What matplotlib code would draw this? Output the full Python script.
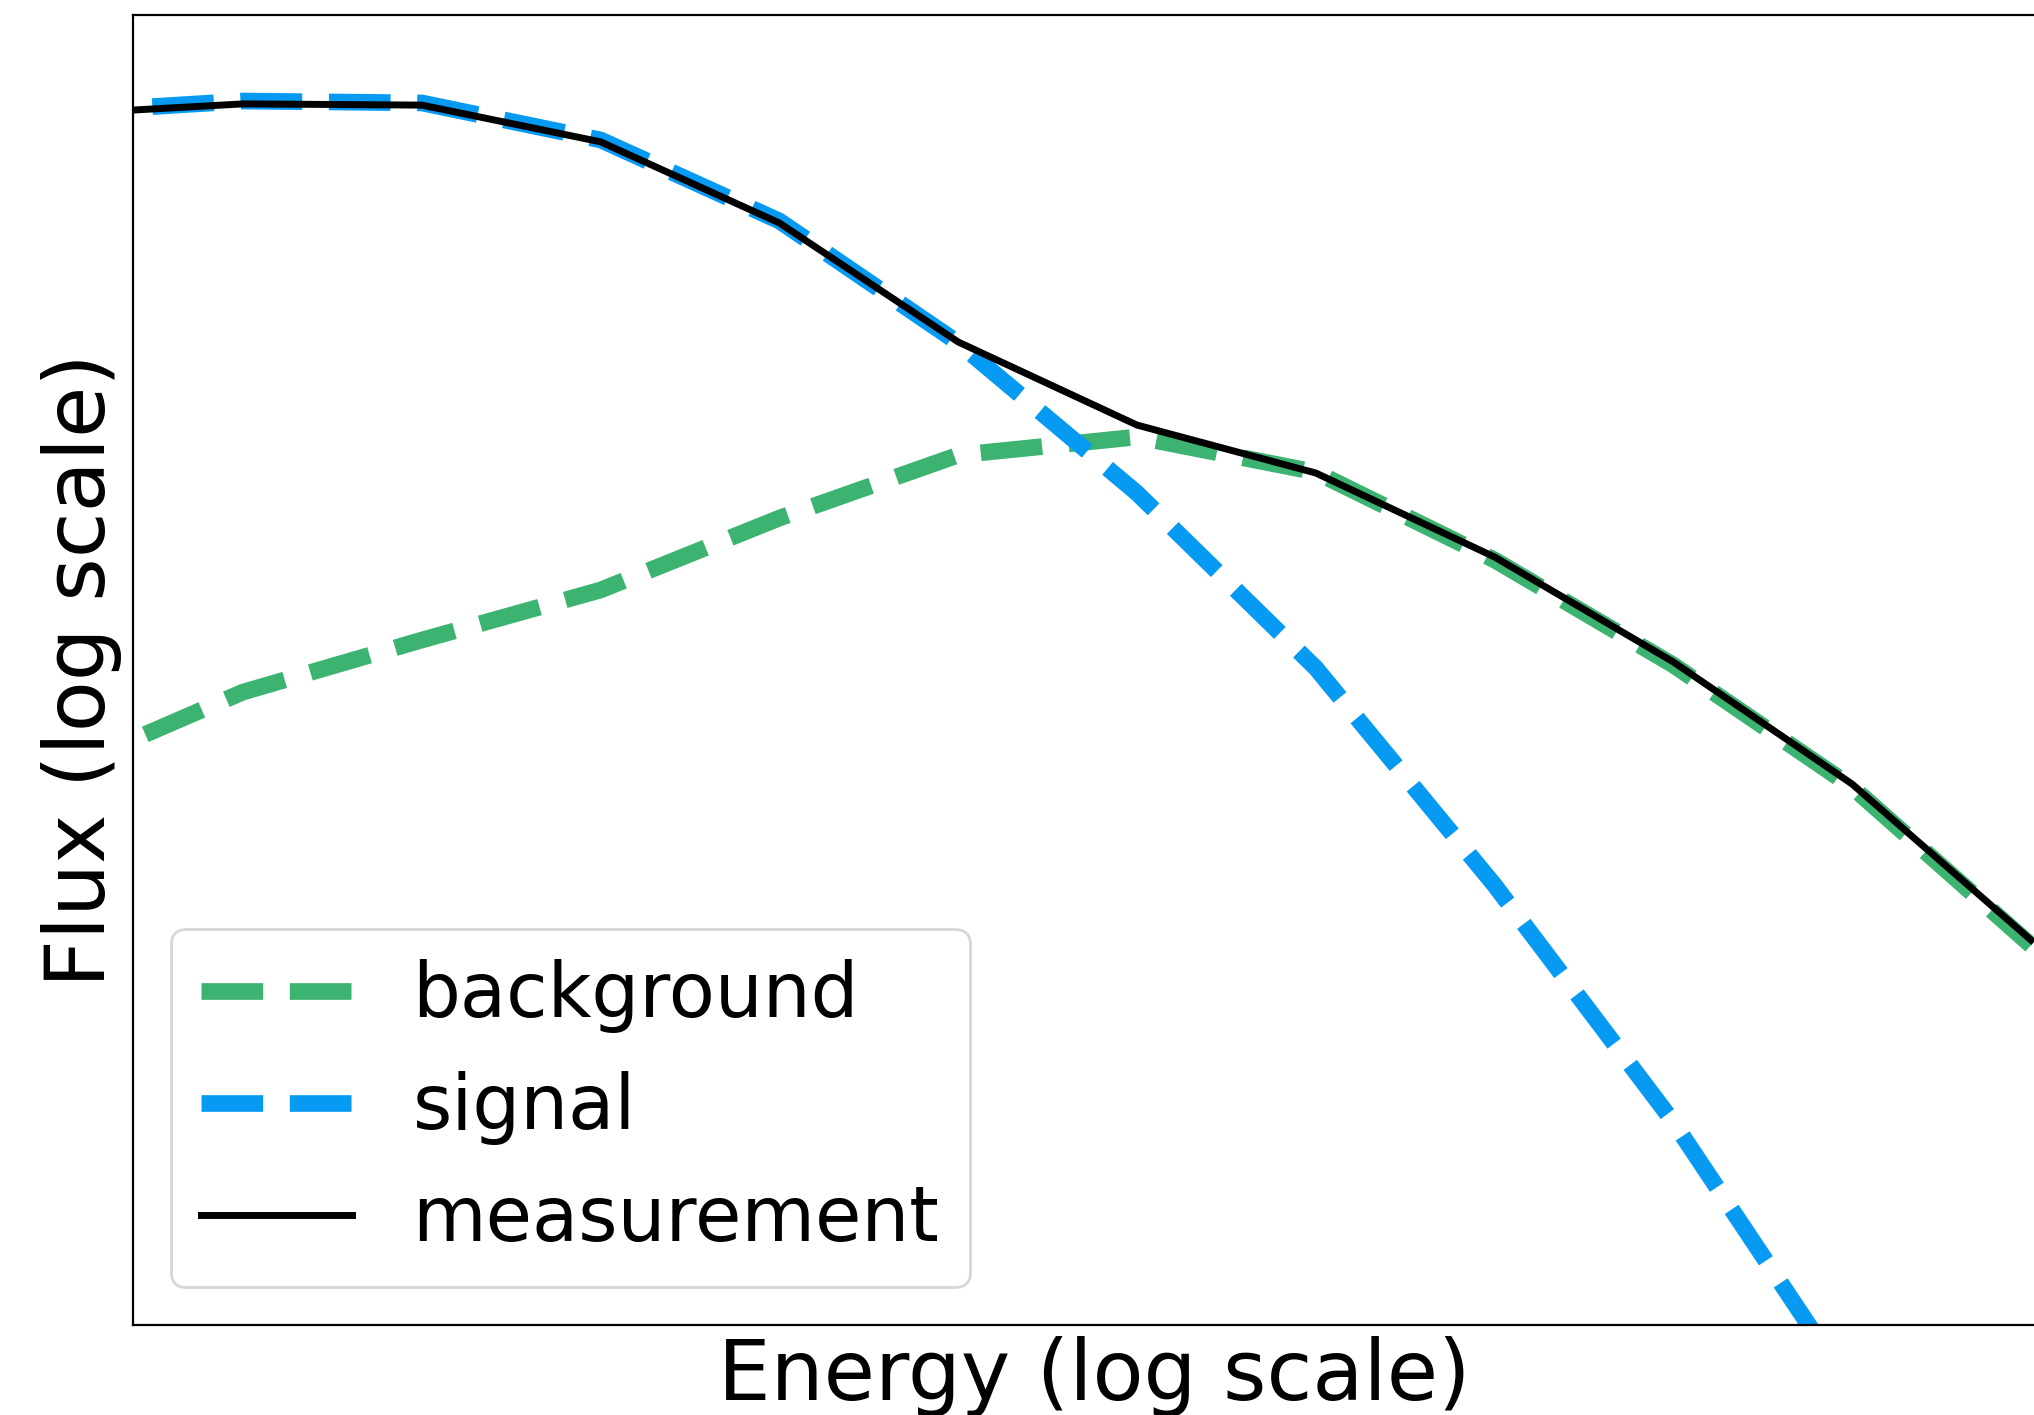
import matplotlib
matplotlib.use("Agg")
import matplotlib.pyplot as plt

# Energy grid (arbitrary units, log-spaced)
energy = [1, 2, 4, 8, 16, 32, 64, 128, 256, 512, 1024, 2048]

# Flux values (arbitrary units)
background = [9.3e-4, 2.41e-3, 4.57e-3, 8.46e-3, 0.0205, 0.0445, 0.0556,
              0.0361, 0.01224, 0.00336, 7.49e-4, 1.07e-4]
signal = [3.03, 3.47, 3.39, 2.15, 0.793, 0.177, 0.0279,
          3.24e-3, 2.24e-4, 1.215e-5, 4.49e-7, 9.9e-9]
measurement = [2.96, 3.35, 3.30, 2.10, 0.774, 0.179, 0.0644,
               0.0357, 0.0127, 3.49e-3, 7.77e-4, 1.14e-4]

labels = ["background", "signal", "measurement"]
x_label = "Energy (log scale)"
y_label = "Flux (log scale)"

W, H = 2034, 1415
fig = plt.figure(figsize=(W / 200, H / 200), dpi=200)
left, right, top, bottom = 133, 2055, 15, 1325
ax = fig.add_axes([left / W, (H - bottom) / H, (right - left) / W, (bottom - top) / H])

ax.plot(energy, background, ls="--", lw=6, color="#3CB371", label=labels[0])
ax.plot(energy, signal, ls="--", lw=6, color="#069AF3", label=labels[1])
ax.plot(energy, measurement, ls="-", lw=2.5, color="black", label=labels[2])

ax.set_xscale("log")
ax.set_yscale("log")
ax.set_xlim(1.3057, 2248)
ax.set_ylim(1e-6, 1e1)
ax.set_xticks([])
ax.set_xticks([], minor=True)
ax.set_yticks([])
ax.set_yticks([], minor=True)

ax.set_xlabel(x_label, fontsize=30)
ax.set_ylabel(y_label, fontsize=30)

ax.legend(loc="lower left", fontsize=27.2)

fig.savefig("out.png", dpi=200)
